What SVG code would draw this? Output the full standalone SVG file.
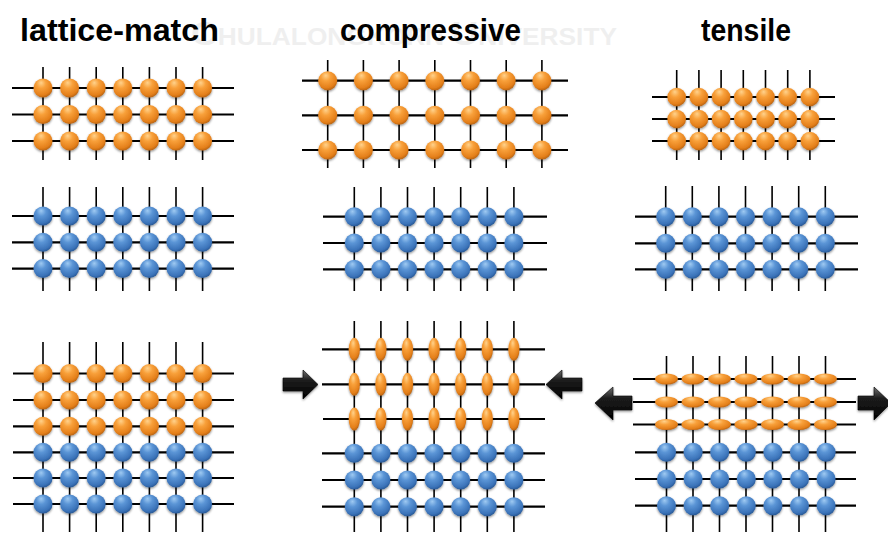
<svg xmlns="http://www.w3.org/2000/svg" xmlns:xlink="http://www.w3.org/1999/xlink" width="888" height="534" viewBox="0 0 888 534">
  <style>
    .title { font-family: "Liberation Sans", Arial, sans-serif; font-weight: bold; font-size: 32px; fill: #000; }
    .mark { font-family: "Liberation Sans Narrow", "Liberation Sans", Arial, sans-serif; font-weight: bold; fill: #efefef; }
    .hz { stroke: #000; stroke-width: 2.2; fill: none; }
    .vt { stroke: #000; stroke-width: 1.6; fill: none; }
    .o { fill: url(#gO); }
    .b { fill: url(#gB); }
    .arrow { fill: url(#gA); stroke: #000; stroke-width: 0.6; filter: url(#sh); }
  </style>
  <defs>
    <radialGradient id="gO" cx="0.42" cy="0.34" r="0.72" fx="0.4" fy="0.22">
      <stop offset="0" stop-color="#ffd28c"/>
      <stop offset="0.35" stop-color="#f8a03a"/>
      <stop offset="0.78" stop-color="#e47f1a"/>
      <stop offset="1" stop-color="#a95a10"/>
    </radialGradient>
    <radialGradient id="gB" cx="0.42" cy="0.34" r="0.72" fx="0.4" fy="0.22">
      <stop offset="0" stop-color="#9fcaf2"/>
      <stop offset="0.35" stop-color="#5b95d6"/>
      <stop offset="0.78" stop-color="#3b73b9"/>
      <stop offset="1" stop-color="#22508a"/>
    </radialGradient>
    <linearGradient id="gA" x1="0" y1="0" x2="0" y2="1">
      <stop offset="0" stop-color="#707070"/>
      <stop offset="0.35" stop-color="#1c1c1c"/>
      <stop offset="1" stop-color="#000"/>
    </linearGradient>
    <filter id="sh" x="-20%" y="-20%" width="140%" height="150%">
      <feDropShadow dx="0" dy="1.3" stdDeviation="1.2" flood-color="#000" flood-opacity="0.45"/>
    </filter>
    <!-- rows of seven atoms, spacing 26.6 -->
    <g id="rowO">
      <circle class="o" cx="0" cy="0" r="9.5"/><circle class="o" cx="26.6" cy="0" r="9.5"/><circle class="o" cx="53.2" cy="0" r="9.5"/><circle class="o" cx="79.8" cy="0" r="9.5"/><circle class="o" cx="106.4" cy="0" r="9.5"/><circle class="o" cx="133" cy="0" r="9.5"/><circle class="o" cx="159.6" cy="0" r="9.5"/>
    </g>
    <g id="rowB">
      <circle class="b" cx="0" cy="0" r="9.5"/><circle class="b" cx="26.6" cy="0" r="9.5"/><circle class="b" cx="53.2" cy="0" r="9.5"/><circle class="b" cx="79.8" cy="0" r="9.5"/><circle class="b" cx="106.4" cy="0" r="9.5"/><circle class="b" cx="133" cy="0" r="9.5"/><circle class="b" cx="159.6" cy="0" r="9.5"/>
    </g>
    <!-- wide spacing (relaxed larger lattice) -->
    <g id="rowOwide">
      <circle class="o" cx="0" cy="0" r="9.5"/><circle class="o" cx="35.7" cy="0" r="9.5"/><circle class="o" cx="71.4" cy="0" r="9.5"/><circle class="o" cx="107.1" cy="0" r="9.5"/><circle class="o" cx="142.8" cy="0" r="9.5"/><circle class="o" cx="178.5" cy="0" r="9.5"/><circle class="o" cx="214.2" cy="0" r="9.5"/>
    </g>
    <!-- narrow spacing (relaxed smaller lattice) -->
    <g id="rowOnarrow">
      <circle class="o" cx="0" cy="0" r="9.3"/><circle class="o" cx="22.2" cy="0" r="9.3"/><circle class="o" cx="44.4" cy="0" r="9.3"/><circle class="o" cx="66.6" cy="0" r="9.3"/><circle class="o" cx="88.8" cy="0" r="9.3"/><circle class="o" cx="111" cy="0" r="9.3"/><circle class="o" cx="133.2" cy="0" r="9.3"/>
    </g>
    <!-- squeezed atoms (compressive strain) -->
    <g id="rowOtall">
      <ellipse class="o" cx="0" cy="0" rx="5.6" ry="11.5"/><ellipse class="o" cx="26.6" cy="0" rx="5.6" ry="11.5"/><ellipse class="o" cx="53.2" cy="0" rx="5.6" ry="11.5"/><ellipse class="o" cx="79.8" cy="0" rx="5.6" ry="11.5"/><ellipse class="o" cx="106.4" cy="0" rx="5.6" ry="11.5"/><ellipse class="o" cx="133" cy="0" rx="5.6" ry="11.5"/><ellipse class="o" cx="159.6" cy="0" rx="5.6" ry="11.5"/>
    </g>
    <!-- stretched atoms (tensile strain) -->
    <g id="rowOflat">
      <ellipse class="o" cx="0" cy="0" rx="11.5" ry="5.6"/><ellipse class="o" cx="26.5" cy="0" rx="11.5" ry="5.6"/><ellipse class="o" cx="53" cy="0" rx="11.5" ry="5.6"/><ellipse class="o" cx="79.5" cy="0" rx="11.5" ry="5.6"/><ellipse class="o" cx="106" cy="0" rx="11.5" ry="5.6"/><ellipse class="o" cx="132.5" cy="0" rx="11.5" ry="5.6"/><ellipse class="o" cx="159" cy="0" rx="11.5" ry="5.6"/>
    </g>
  </defs>

  <rect width="888" height="534" fill="#fff"/>

  <!-- faint background lettering -->
  <text class="mark" x="191" y="45" textLength="426" lengthAdjust="spacingAndGlyphs"><tspan font-size="34">C</tspan><tspan font-size="24">HULALONGKORN </tspan><tspan font-size="34">U</tspan><tspan font-size="24">NIVERSITY</tspan></text>

  <!-- column headings -->
  <g id="titles">
    <text class="title" x="20" y="41" textLength="199" lengthAdjust="spacingAndGlyphs">lattice-match</text>
    <text class="title" x="340" y="41" textLength="181" lengthAdjust="spacingAndGlyphs">compressive</text>
    <text class="title" x="701" y="41" textLength="90" lengthAdjust="spacingAndGlyphs">tensile</text>
  </g>

  <!-- lattice-match column -->
  <g id="lm-film">
    <path class="hz" d="M12 88H234M12 114.5H234M12 141H234"/>
    <path class="vt" d="M43 67V160M69.6 67V160M96.2 67V160M122.8 67V160M149.4 67V160M176 67V160M202.6 67V160"/>
    <g filter="url(#sh)">
      <use href="#rowO" x="43" y="88"/><use href="#rowO" x="43" y="114.5"/><use href="#rowO" x="43" y="141"/>
    </g>
  </g>
  <g id="lm-substrate">
    <path class="hz" d="M12 216H234M12 242.3H234M12 268.6H234"/>
    <path class="vt" d="M43 187V291M69.6 187V291M96.2 187V291M122.8 187V291M149.4 187V291M176 187V291M202.6 187V291"/>
    <g filter="url(#sh)">
      <use href="#rowB" x="43" y="216"/><use href="#rowB" x="43" y="242.3"/><use href="#rowB" x="43" y="268.6"/>
    </g>
  </g>
  <g id="lm-stack">
    <path class="hz" d="M13 373.5H234M13 400H234M13 426.3H234M13 452.3H234M13 478H234M13 504H234"/>
    <path class="vt" d="M43 342V532M69.6 342V532M96.2 342V532M122.8 342V532M149.4 342V532M176 342V532M202.6 342V532"/>
    <g filter="url(#sh)">
      <use href="#rowO" x="43" y="373.5"/><use href="#rowO" x="43" y="400"/><use href="#rowO" x="43" y="426.3"/>
      <use href="#rowB" x="43" y="452.3"/><use href="#rowB" x="43" y="478"/><use href="#rowB" x="43" y="504"/>
    </g>
  </g>

  <!-- compressive column -->
  <g id="cp-film">
    <path class="hz" d="M302 80.7H568M302 115.3H568M302 150H568"/>
    <path class="vt" d="M327.7 60V168M363.4 60V168M399.1 60V168M434.8 60V168M470.5 60V168M506.2 60V168M541.9 60V168"/>
    <g filter="url(#sh)">
      <use href="#rowOwide" x="327.7" y="80.7"/><use href="#rowOwide" x="327.7" y="115.3"/><use href="#rowOwide" x="327.7" y="150"/>
    </g>
  </g>
  <g id="cp-substrate">
    <path class="hz" d="M323 216.7H547M323 243H547M323 269.3H547"/>
    <path class="vt" d="M354.3 187V291M380.9 187V291M407.5 187V291M434.1 187V291M460.7 187V291M487.3 187V291M513.9 187V291"/>
    <g filter="url(#sh)">
      <use href="#rowB" x="354.3" y="216.7"/><use href="#rowB" x="354.3" y="243"/><use href="#rowB" x="354.3" y="269.3"/>
    </g>
  </g>
  <g id="cp-stack">
    <path class="hz" d="M322 349.3H545M322 384.3H545M323 419H545M322 453.3H545M322 480H545M322 506.7H545"/>
    <path class="vt" d="M354.3 321V532M380.9 321V532M407.5 321V532M434.1 321V532M460.7 321V532M487.3 321V532M513.9 321V532"/>
    <g filter="url(#sh)">
      <use href="#rowOtall" x="354.3" y="349.3"/><use href="#rowOtall" x="354.3" y="384.3"/><use href="#rowOtall" x="354.3" y="419"/>
      <use href="#rowB" x="354.3" y="453.3"/><use href="#rowB" x="354.3" y="480"/><use href="#rowB" x="354.3" y="506.7"/>
    </g>
  </g>

  <!-- tensile column -->
  <g id="ts-film">
    <path class="hz" d="M652 97H835M652 119H835M652 141H835"/>
    <path class="vt" d="M676.7 70V160M698.9 70V160M721.1 70V160M743.3 70V160M765.5 70V160M787.7 70V160M809.9 70V160"/>
    <g filter="url(#sh)">
      <use href="#rowOnarrow" x="676.7" y="97"/><use href="#rowOnarrow" x="676.7" y="119"/><use href="#rowOnarrow" x="676.7" y="141"/>
    </g>
  </g>
  <g id="ts-substrate">
    <path class="hz" d="M635 216.7H858M635 243.3H858M635 269.3H858"/>
    <path class="vt" d="M665.7 186V291M692.3 186V291M718.9 186V291M745.5 186V291M772.1 186V291M798.7 186V291M825.3 186V291"/>
    <g filter="url(#sh)">
      <use href="#rowB" x="665.7" y="216.7"/><use href="#rowB" x="665.7" y="243.3"/><use href="#rowB" x="665.7" y="269.3"/>
    </g>
  </g>
  <g id="ts-stack">
    <path class="hz" d="M633 379H856M633 402H856M633 424.5H856M635 452.3H856M635 479H856M635 505.7H856"/>
    <path class="vt" d="M666.5 356V532M693 356V532M719.5 356V532M746 356V532M772.5 356V532M799 356V532M825.5 356V532"/>
    <g filter="url(#sh)">
      <use href="#rowOflat" x="666.5" y="379"/><use href="#rowOflat" x="666.5" y="402"/><use href="#rowOflat" x="666.5" y="424.5"/>
      <use href="#rowB" x="666.5" y="452.3"/><use href="#rowB" x="666.5" y="479"/><use href="#rowB" x="666.5" y="505.7"/>
    </g>
  </g>

  <!-- force arrows -->
  <g id="arrows">
    <path class="arrow" d="M283 378H303V370L318 384.5L303 399V391H283Z"/>
    <path class="arrow" d="M582 378H562V370L546 384.5L562 399V391H582Z"/>
    <path class="arrow" d="M632 396H613V387L595 403L613 420V410H632Z"/>
    <path class="arrow" d="M858 396H874V387L891 403L874 420V410H858Z"/>
  </g>
</svg>
